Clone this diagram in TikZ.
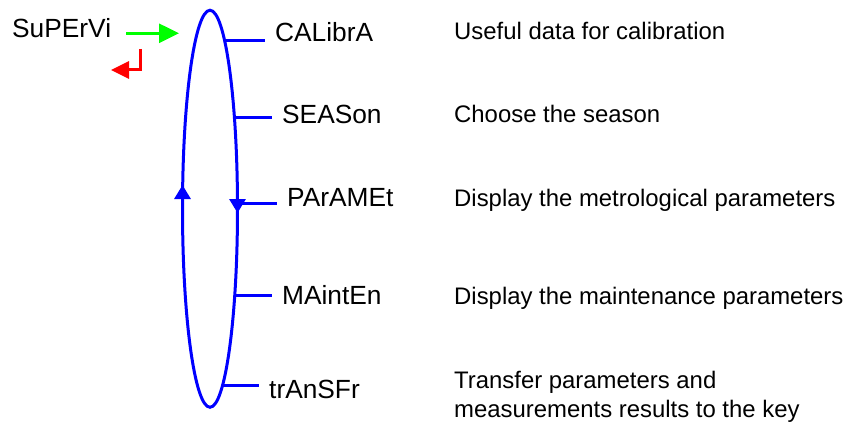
\documentclass[tikz,border=0pt]{standalone}
\usepackage{fontspec}
\setmainfont{Liberation Sans}
\usetikzlibrary{shapes.geometric,arrows.meta}
\definecolor{loopblue}{rgb}{0,0,1}
\definecolor{gogreen}{rgb}{0,1,0}
\definecolor{backred}{rgb}{1,0,0}
\tikzset{link/.style={line width=3pt,loopblue}}
\tikzset{flow/.style={link,-{Triangle[length=14pt,width=16pt]}}}
\tikzset{menuitem/.style={anchor=base west,inner xsep=10pt,inner ysep=0pt,
    font=\fontsize{26.3}{30}\selectfont}}
\tikzset{helptext/.style={anchor=base west,inner sep=0pt,align=left,
    font=\fontsize{23.9}{29}\selectfont}}

\begin{document}
\begin{tikzpicture}[x=1pt,y=-1pt]
        \useasboundingbox (0,0) rectangle (846,433);
        % The menu loop
        \node[draw=loopblue,line width=3pt,ellipse,inner sep=0pt,outer sep=0pt,
            minimum width=55pt,minimum height=397pt] (loop) at (210,208.75) {};
        \draw[flow] (loop.west) -- ++(0,-23.75);
        \draw[flow] (loop.east) ++(0,-10) -- ++(0,14.25);
        % Entry and exit
        \node[menuitem,inner xsep=0pt] (super) at (12,38) {SuPErVi};
        \coordinate (entryfrom) at (126,33.3);
        \coordinate (entryto) at (179,33.3);
        \draw[line width=3pt,gogreen,-{Triangle[length=20pt,width=19pt]}] 
        (entryfrom) -- (entryto);
        \coordinate (exitfrom) at (140,49);
        \coordinate (exitto) at (111,70);
        \draw[line width=3pt,backred,-{Triangle[length=18pt,width=17pt]}] 
        (exitfrom) |- (exitto);
        % Menu entries
        \node[menuitem] (calib) at (265,42) {CALibrA};
        \node[menuitem] (season) at (272,124) {SEASon};
        \node[menuitem] (param) at (277,206.7) {PArAMEt};
        \node[menuitem] (maint) at (272,304.5) {MAintEn};
        \node[menuitem] (transf) at (259,398) {trAnSFr};
        \draw[link] (loop.85.9) -- (loop.85.9 -| calib.west);
        \draw[link] (loop.75.5) -- (loop.75.5 -| season.west);
        \draw[link] (loop.11.8) -- (loop.11.8 -| param.west);
        \draw[link] (loop.-74) -- (loop.-74 -| maint.west);
        \draw[link] (loop.-86.6) -- (loop.-86.6 -| transf.west);
        % Explanations
        \node[helptext] (calibtxt) at (454,39.5) {Useful data for calibration};
        \node[helptext] (seasontxt) at (454,123) {Choose the season};
        \node[helptext] (paramtxt) at (454,206) {Display the metrological parameters};
        \node[helptext] (mainttxt) at (454,304.5) {Display the maintenance parameters};
        \node[helptext] (transftxt) at (454,417) 
        {Transfer parameters and\\measurements results to the key};
\end{tikzpicture}
\end{document}
